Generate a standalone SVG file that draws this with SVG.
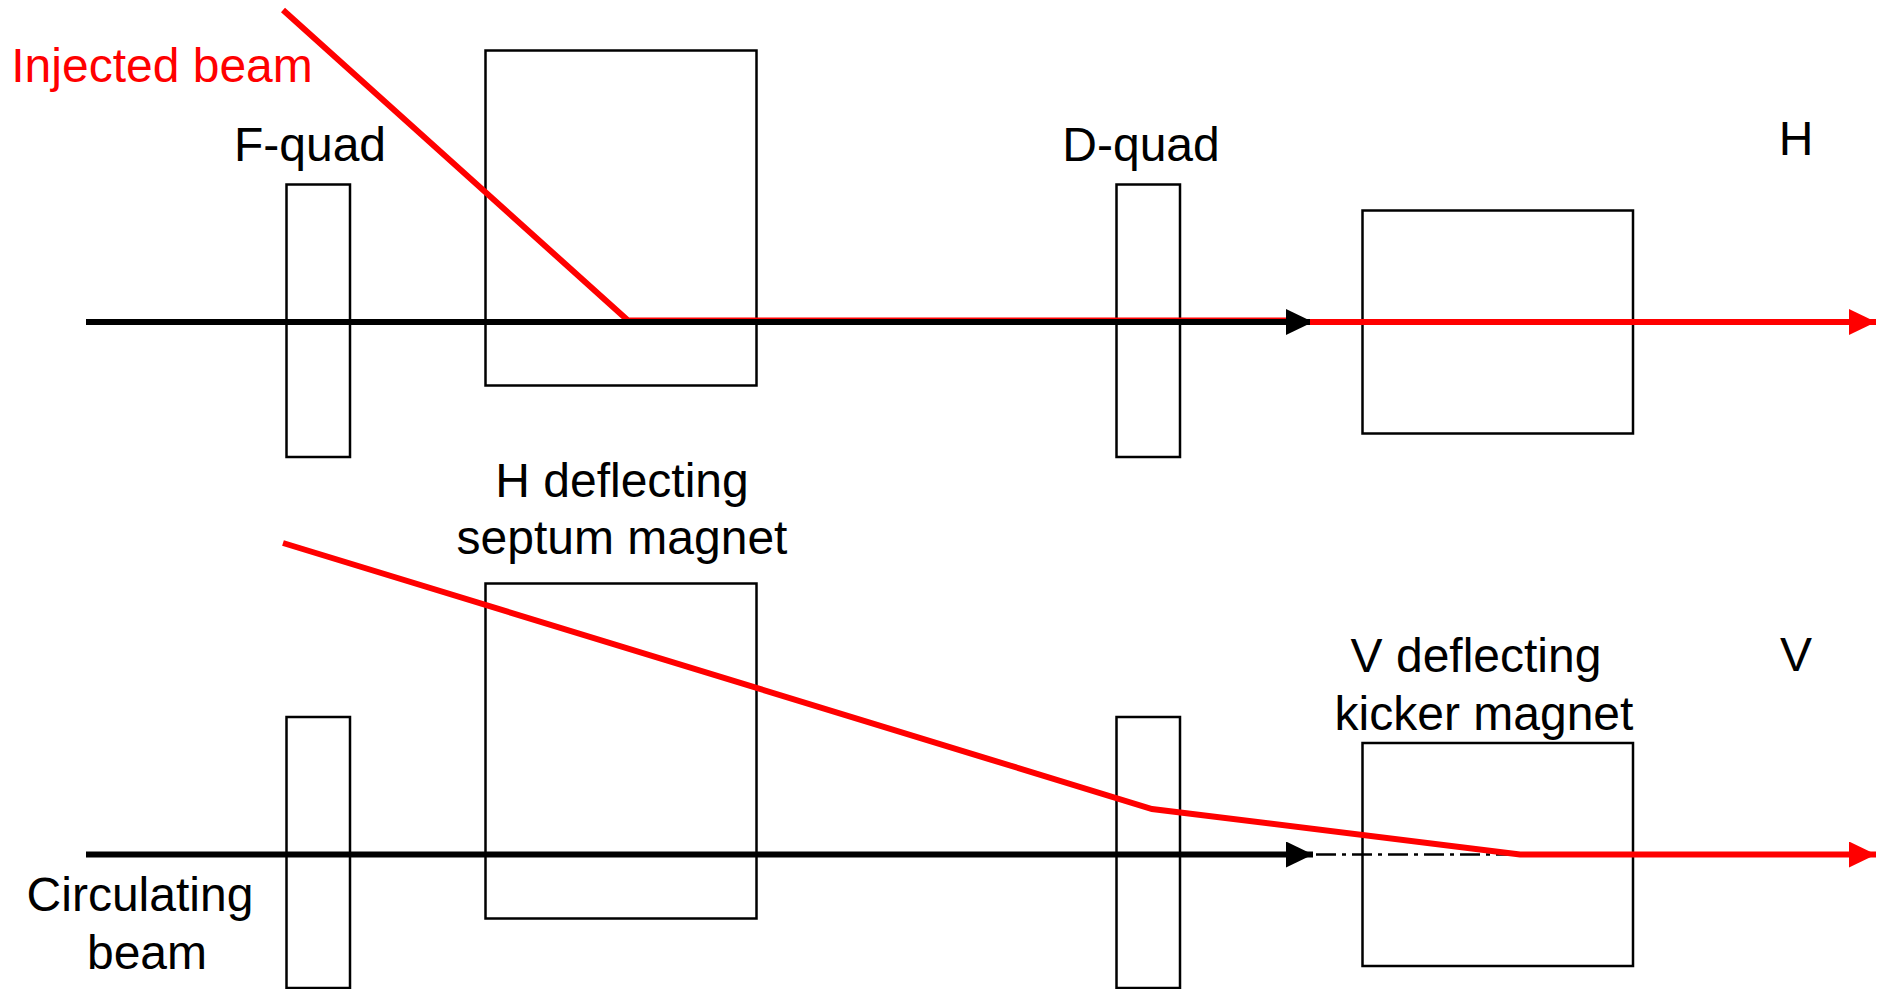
<svg xmlns="http://www.w3.org/2000/svg" width="1885" height="989" viewBox="0 0 1885 989">
<style>
.b{fill:none;stroke:#000;stroke-width:2.500}
.t{font-family:"Liberation Sans",Arial,sans-serif;font-size:48px;fill:#000;text-anchor:middle}
.k{fill:none;stroke:#000;stroke-width:6}
.r{fill:none;stroke:#f00;stroke-width:6}
</style>
<defs>
<marker id="ak" markerUnits="userSpaceOnUse" markerWidth="27" markerHeight="26" refX="27" refY="13" orient="auto"><path d="M0 0L27 13L0 26z" fill="#000"/></marker>
<marker id="ar" markerUnits="userSpaceOnUse" markerWidth="27" markerHeight="26" refX="27" refY="13" orient="auto"><path d="M0 0L27 13L0 26z" fill="#f00"/></marker>
</defs>
<rect width="1885" height="989" fill="#fff"/>
<g id="f-quad-h"><rect class="b" x="286.500" y="184.500" width="63.500" height="272.500"/></g>
<g id="septum-h"><rect class="b" x="485.500" y="50.500" width="271" height="335"/></g>
<g id="d-quad-h"><rect class="b" x="1116.500" y="184.500" width="63.500" height="272.500"/></g>
<g id="kicker-h"><rect class="b" x="1362.500" y="210.500" width="270.500" height="223"/></g>
<g id="f-quad-v"><rect class="b" x="286.500" y="717" width="63.500" height="271"/></g>
<g id="septum-v"><rect class="b" x="485.500" y="583.500" width="271" height="335"/></g>
<g id="d-quad-v"><rect class="b" x="1116.500" y="717" width="63.500" height="271"/></g>
<g id="kicker-v"><rect class="b" x="1362.500" y="743" width="270.500" height="223"/></g>
<g id="connectors">
<path class="r" d="M283 10L628 320.500L1300 320.500"/>
<path class="k" d="M86 322H1313" marker-end="url(#ak)"/>
<path class="r" d="M1310 322H1876" marker-end="url(#ar)"/>
<path class="k" d="M86 854.500H1313" marker-end="url(#ak)"/>
<path d="M1316 854.500H1522" fill="none" stroke="#000" stroke-width="2.500" stroke-dasharray="20 6 4 6"/>
<path class="r" d="M283 543L1152 809L1520 854.500H1876" marker-end="url(#ar)"/>
</g>
<g id="labels">
<text class="t" x="162" y="82" style="fill:#f00">Injected beam</text>
<text class="t" x="310" y="161">F-quad</text>
<text class="t" x="1141" y="161">D-quad</text>
<text class="t" x="1796" y="155">H</text>
<text class="t" x="622" y="497">H deflecting</text>
<text class="t" x="622" y="553.500">septum magnet</text>
<text class="t" x="1476" y="672">V deflecting</text>
<text class="t" x="1484" y="730">kicker magnet</text>
<text class="t" x="1796" y="671">V</text>
<text class="t" x="140" y="911">Circulating</text>
<text class="t" x="147" y="969">beam</text>
</g>
</svg>
